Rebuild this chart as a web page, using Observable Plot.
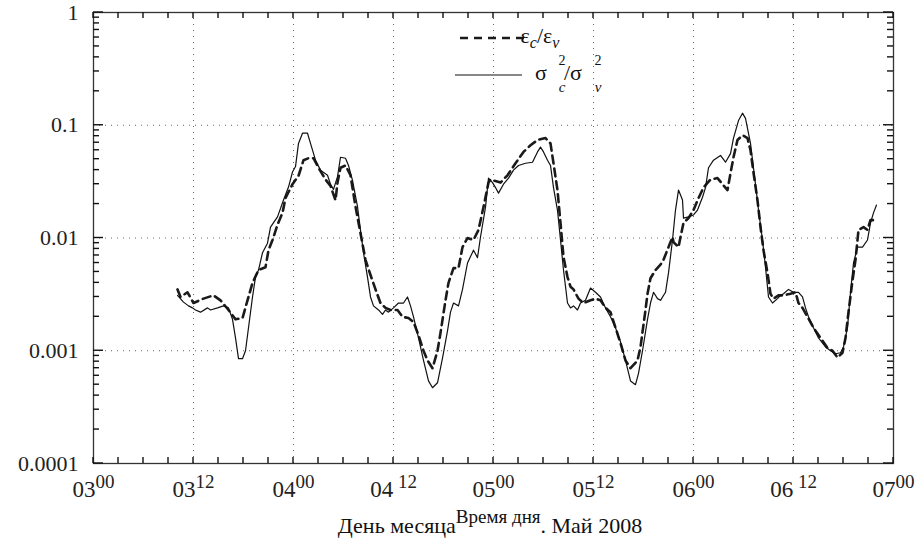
<!DOCTYPE html>
<html><head><meta charset="utf-8">
<script src="https://cdn.jsdelivr.net/npm/d3@7"></script>
<script src="https://cdn.jsdelivr.net/npm/@observablehq/plot@0.6"></script>
<style>body{margin:0;background:#fff} svg{display:block}</style>
</head><body><div id="chart"></div>
<script>
// hours since 03 May 00:00
const tSigma=[10.08,10.8,11.4,11.88,12.24,12.84,13.68,14.04,14.88,15.6,16.2,16.68,17.04,17.4,17.88,18.24,18.6,19.08,19.44,19.8,20.28,20.88,21.24,22.08,22.8,23.4,23.88,24.24,24.6,25.08,25.68,26.04,26.64,27.24,28.08,28.44,28.8,29.28,29.64,30.24,30.6,31.08,31.68,32.04,32.4,32.88,33.24,33.6,34.2,34.68,35.04,35.4,36.0,36.6,37.2,37.68,38.04,38.4,39.0,39.6,40.2,40.68,41.28,41.88,42.48,42.84,43.2,43.8,44.28,44.88,45.6,46.08,46.44,47.04,47.4,47.88,48.24,48.6,49.2,49.8,50.4,51.0,51.84,52.68,53.28,53.64,54.0,54.48,54.84,55.2,55.68,56.04,56.4,56.88,57.24,57.6,58.08,58.44,59.04,59.64,60.24,60.84,61.44,62.04,62.64,63.24,63.84,64.44,65.04,65.4,65.88,66.48,66.84,67.2,67.68,68.04,68.64,69.0,69.48,69.84,70.2,70.68,70.8,71.4,72.0,72.48,73.08,73.44,73.8,74.4,75.24,75.84,76.44,76.8,77.4,77.88,78.24,78.84,79.44,79.8,80.28,80.64,81.0,81.48,82.08,82.44,82.8,83.4,84.0,84.6,85.08,85.44,85.8,86.4,87.0,87.84,88.44,89.04,89.64,90.0,90.48,90.84,91.2,91.68,92.28,92.88,93.24,93.6,93.96];
const vSigma=[0.0031,0.0027,0.0025,0.0024,0.0023,0.0022,0.0024,0.0023,0.0024,0.0025,0.0024,0.0019,0.0013,0.00085,0.00085,0.001,0.0016,0.003,0.0045,0.0052,0.0074,0.009,0.0125,0.0154,0.0217,0.0283,0.0385,0.043,0.069,0.085,0.085,0.069,0.049,0.04,0.036,0.03,0.027,0.035,0.052,0.051,0.044,0.0325,0.019,0.0117,0.0074,0.0045,0.003,0.0025,0.0023,0.0021,0.0023,0.0022,0.0024,0.00265,0.00265,0.003,0.0025,0.002,0.0013,0.00082,0.00054,0.00047,0.00052,0.00086,0.0015,0.0022,0.00265,0.0025,0.0035,0.006,0.0078,0.0067,0.0102,0.0188,0.034,0.031,0.028,0.025,0.03,0.034,0.04,0.044,0.046,0.047,0.058,0.064,0.058,0.049,0.044,0.028,0.0176,0.0096,0.0052,0.00265,0.0024,0.0025,0.0023,0.00265,0.0028,0.0036,0.0033,0.003,0.0024,0.002,0.0016,0.0012,0.00082,0.00054,0.0005,0.00063,0.001,0.0019,0.00265,0.0033,0.0029,0.0028,0.0033,0.0049,0.0096,0.0177,0.0266,0.0217,0.015,0.0154,0.016,0.0177,0.023,0.028,0.042,0.049,0.054,0.047,0.056,0.077,0.11,0.128,0.115,0.069,0.03,0.0177,0.0096,0.0055,0.003,0.00265,0.0029,0.0031,0.0032,0.0035,0.0033,0.0033,0.003,0.0024,0.002,0.0016,0.0013,0.00108,0.001,0.00094,0.00096,0.00108,0.0016,0.0033,0.006,0.0083,0.0083,0.0096,0.0136,0.0167,0.0196];
const tEps=[10.08,10.44,11.28,12.0,13.2,14.4,15.24,16.2,17.04,17.88,18.48,19.08,19.8,20.64,21.0,21.48,22.08,22.68,23.04,23.88,24.6,25.2,25.8,26.4,27.0,27.84,28.44,29.04,29.28,29.64,30.24,30.84,31.44,32.04,32.64,33.24,33.84,34.44,35.04,35.64,36.48,37.08,37.8,38.4,39.0,39.6,40.08,40.68,41.28,41.64,42.24,42.6,43.2,43.8,44.28,44.88,45.6,46.2,46.8,47.4,47.64,48.84,49.68,50.64,51.6,52.44,53.28,54.24,54.84,55.2,55.68,56.04,56.4,56.88,57.24,57.6,58.2,58.8,59.64,60.24,60.84,61.44,62.04,62.64,63.24,63.84,64.44,65.28,65.64,66.24,66.48,66.84,67.44,68.04,68.4,69.0,69.48,69.6,70.2,70.44,70.8,71.4,72.0,72.6,73.2,74.04,74.88,75.48,76.08,76.44,76.8,77.28,77.88,78.48,78.84,79.2,79.68,80.04,80.4,80.88,81.24,81.6,82.2,82.8,83.64,84.24,84.6,85.08,85.68,86.4,87.24,88.08,88.68,89.28,89.88,90.24,90.6,91.08,91.44,91.8,92.4,92.88,93.24,93.72];
const vEps=[0.0035,0.003,0.0033,0.00265,0.0029,0.0031,0.0028,0.0023,0.0019,0.00195,0.0028,0.004,0.0052,0.0055,0.0078,0.0096,0.0131,0.0167,0.0226,0.03,0.0356,0.049,0.051,0.051,0.042,0.033,0.029,0.0216,0.031,0.042,0.044,0.036,0.019,0.011,0.0064,0.0047,0.0035,0.00265,0.0024,0.0023,0.0023,0.002,0.00195,0.0018,0.00137,0.001,0.00082,0.0007,0.001,0.00144,0.0028,0.004,0.0054,0.0054,0.0083,0.01,0.0096,0.0118,0.0188,0.031,0.033,0.031,0.036,0.046,0.058,0.0665,0.074,0.077,0.069,0.046,0.0265,0.0136,0.0068,0.0045,0.0037,0.0035,0.0029,0.00265,0.0028,0.0029,0.0028,0.0024,0.0022,0.0016,0.00117,0.00082,0.0007,0.00082,0.00108,0.0023,0.0032,0.0044,0.0052,0.0058,0.0064,0.0083,0.0102,0.0092,0.0083,0.0102,0.0136,0.015,0.0177,0.0226,0.028,0.033,0.034,0.03,0.0266,0.0375,0.052,0.074,0.0815,0.077,0.06,0.038,0.0216,0.0125,0.0078,0.0049,0.0032,0.0029,0.0031,0.0031,0.0032,0.0033,0.00265,0.0024,0.002,0.0016,0.0013,0.00106,0.001,0.00087,0.00096,0.0013,0.0022,0.0042,0.0064,0.0118,0.0125,0.0118,0.0144,0.0144];

const xTicks=[0,12,24,36,48,60,72,84,96];
const xTickDay=["03","03","04","04","05","05","06","06","07"];
const xTickHour=["00","12","00"," 12","00","12","00"," 12","00"];
const yTicks=[1,0.1,0.01,0.001,0.0001];
const yTickLabels=["1","0.1","0.01","0.001","0.0001"];

const sigma=tSigma.map((t,i)=>({t,v:vSigma[i]}));
const eps=tEps.map((t,i)=>({t,v:vEps[i]}));
const minor=[];for(let k=-4;k<0;k++)for(let m=2;m<=9;m++)minor.push(m*10**k);
const x3=d3.range(0,97,3);
const font="'Liberation Serif', serif";

const plot=Plot.plot({
  width:920,height:542,marginLeft:93,marginRight:27,marginTop:12,marginBottom:79,
  style:{fontFamily:font,fontSize:"22px",color:"#222",background:"#fff"},
  x:{domain:[0,96]},
  y:{type:"log",domain:[0.0001,1]},
  marks:[
    Plot.ruleY([0.1,0.01,0.001],{stroke:"#666",strokeDasharray:"1,5"}),
    Plot.ruleX(xTicks.slice(1,-1),{stroke:"#666",strokeDasharray:"1,5"}),
    Plot.line(eps,{x:"t",y:"v",stroke:"#1a1a1a",strokeWidth:2.6,strokeDasharray:"8,5"}),
    Plot.line(sigma,{x:"t",y:"v",stroke:"#111",strokeWidth:1.2}),
    Plot.frame({stroke:"#333",strokeWidth:1.3}),
    Plot.axisX(xTicks,{tickSize:0,tickPadding:17,label:null,fontSize:23,fontFamily:font,
      tickFormat:d=>{const i=xTicks.indexOf(d);return xTickDay[i]+"|"+xTickHour[i];}}),
    Plot.axisY(yTicks,{tickSize:0,tickPadding:15,label:null,fontSize:22,fontFamily:font,
      tickFormat:d=>yTickLabels[yTicks.indexOf(d)]})
  ]
});

const svg=d3.select(plot);
const sx=plot.scale("x"), sy=plot.scale("y");
svg.selectAll('g[aria-label="x-axis tick label"] text').each(function(){
  const s=this.textContent.split("|");
  const t=d3.select(this);
  t.text(null);
  t.append("tspan").text(s[0]);
  t.append("tspan").attr("dy","-0.45em").attr("font-size","19px").text(s[1]);
});

// inward ticks, positioned through Plot's scales
const X0=sx.apply(0), X1=sx.apply(96), Y0=sy.apply(0.0001), Y1=sy.apply(1);
const tg=svg.append("g").attr("stroke","#111").attr("stroke-width",1.4);
for(const v of minor){const y=sy.apply(v);
  tg.append("line").attr("x1",X0).attr("x2",X0+6).attr("y1",y).attr("y2",y);
  tg.append("line").attr("x1",X1).attr("x2",X1-6).attr("y1",y).attr("y2",y);}
for(const v of yTicks){const y=sy.apply(v);
  tg.append("line").attr("x1",X0).attr("x2",X0+10).attr("y1",y).attr("y2",y);
  tg.append("line").attr("x1",X1).attr("x2",X1-10).attr("y1",y).attr("y2",y);}
for(const h of x3){const x=sx.apply(h);
  tg.append("line").attr("x1",x).attr("x2",x).attr("y1",Y0).attr("y2",Y0-6);
  tg.append("line").attr("x1",x).attr("x2",x).attr("y1",Y1).attr("y2",Y1+6);}

// axis title
const tl=svg.append("text").attr("x",490).attr("y",533).attr("text-anchor","middle")
  .attr("font-family",font).attr("font-size",22).attr("fill","#111");
tl.append("tspan").text("День месяца");
tl.append("tspan").attr("dy",-10).attr("font-size",19).text("Время дня");
tl.append("tspan").attr("dy",10).text(". Май 2008");

// legend
const lg=svg.append("g").attr("fill","#111").attr("font-family",font);
lg.append("line").attr("x1",460).attr("x2",525).attr("y1",38).attr("y2",38)
  .attr("stroke","#1a1a1a").attr("stroke-width",2.6).attr("stroke-dasharray","8,6");
lg.append("line").attr("x1",455).attr("x2",522).attr("y1",75).attr("y2",75)
  .attr("stroke","#111").attr("stroke-width",1.2);
const t1=lg.append("text").attr("x",540).attr("y",43).attr("font-size",22);
t1.append("tspan").text("ε");
t1.append("tspan").attr("dy",5).attr("font-size",16).attr("font-style","italic").text("c");
t1.append("tspan").attr("dy",-5).text("/ε");
t1.append("tspan").attr("dy",5).attr("font-size",16).attr("font-style","italic").text("v");
const lt=(x,y,s,txt,it)=>lg.append("text").attr("x",x).attr("y",y).attr("font-size",s)
  .attr("font-style",it?"italic":null).text(txt);
lt(541,80,22,"σ");
lt(562,65,14,"2");
lt(562,92,15,"c",true);
lt(573,80,22,"/σ");
lt(598,65,14,"2");
lt(598,92,15,"v",true);

document.getElementById("chart").appendChild(plot);
</script></body></html>
